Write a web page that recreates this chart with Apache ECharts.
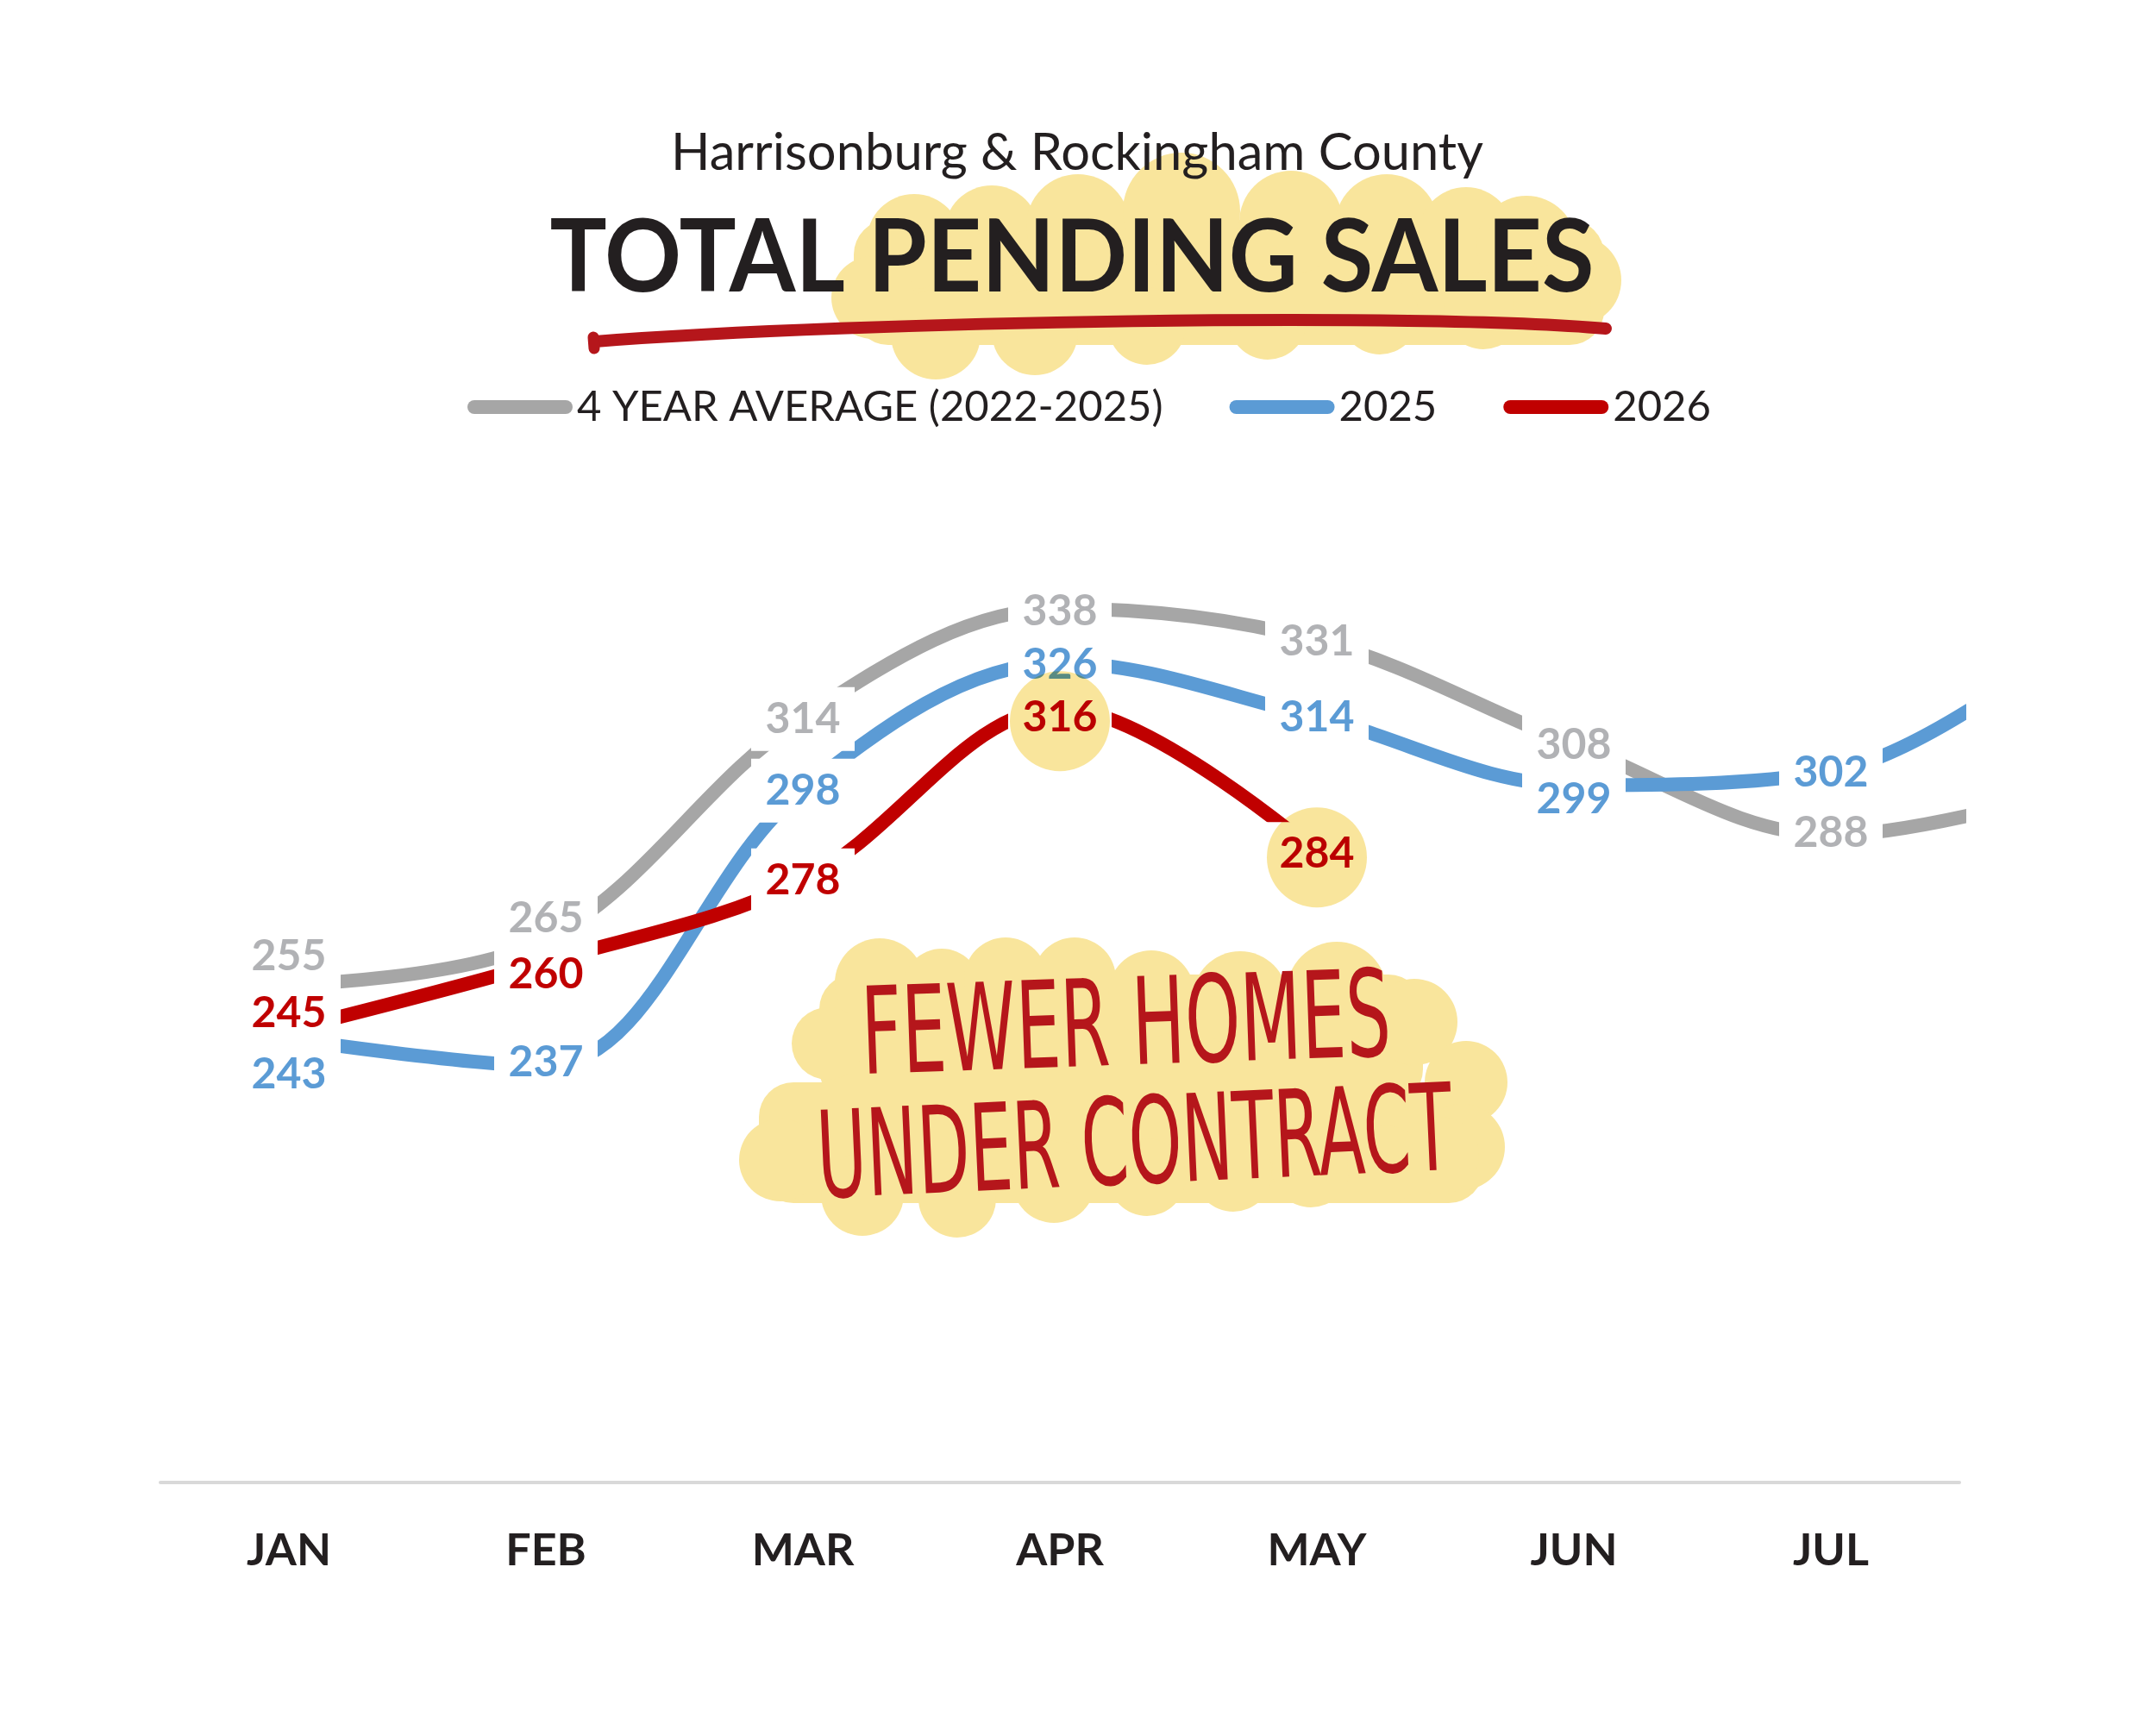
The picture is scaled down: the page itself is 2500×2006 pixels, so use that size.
<!DOCTYPE html>
<html>
<head>
<meta charset="utf-8">
<title>Total Pending Sales</title>
<script src="https://cdn.jsdelivr.net/npm/echarts@6/dist/echarts.min.js"></script>
<style>
    html, body { margin: 0; padding: 0; background: #fff; }
    #pendingChart { width: 2500px; height: 2006px; }
</style>
</head>
<body>
<div id="pendingChart"></div>
<script>
var months = ['JAN', 'FEB', 'MAR', 'APR', 'MAY', 'JUN', 'JUL'];
// last value (AUG) only feeds the tail that runs off the right edge
var avgValues = [255, 265, 314, 338, 331, 308, 288, 299];
var values2025 = [243, 237, 298, 326, 314, 299, 302, 334];
var values2026 = [245, 260, 278, 316, 284];
var seriesNames = ['4 YEAR AVERAGE (2022-2025)', '2025', '2026'];

// vertical nudges for the data labels so they stack like the original
var avgLabelShift = [-33, -24, 2, 3, 1, 1, -2];
var label2025Shift = [41, -4, 1, 2, 0, 16, 1];
var label2026Shift = [-19, 15, 0, 11, 1];
var circled2026 = [3, 4];

var fontFamily = 'Lato, "Open Sans", sans-serif';
var darkText = '#231f20';
var yellow = '#f9e59c';
var markerRed = '#b5161b';

var measureCtx = document.createElement('canvas').getContext('2d');
function textWidth(text, font) {
    measureCtx.font = font;
    return measureCtx.measureText(text).width;
}

function buildSeries(name, values, shifts, lineColor, labelColor) {
    var data = [];
    for (var i = 0; i < values.length; i++) {
        var item = { value: [i, values[i]] };
        if (i < months.length) {
            item.label = { offset: [0, shifts[i]] };
        } else {
            item.label = { show: false };
        }
        data.push(item);
    }
    return {
        type: 'line',
        name: name,
        xAxisIndex: 1,
        smooth: 0.35,
        symbol: 'circle',
        symbolSize: 2,
        clip: true,
        itemStyle: { color: lineColor },
        lineStyle: { color: lineColor, width: 16 },
        label: {
            show: true,
            position: 'inside',
            formatter: function (p) { return p.value[1]; },
            color: labelColor,
            fontFamily: fontFamily,
            fontWeight: 'bold',
            fontSize: 50,
            backgroundColor: '#fff',
            width: 120,
            height: 74,
            lineHeight: 74,
            align: 'center',
            verticalAlign: 'middle'
        },
        emphasis: { disabled: true },
        data: data
    };
}

function cloud(circles, rects) {
    var children = [];
    rects.forEach(function (r) {
        children.push({ type: 'rect', shape: { x: r[0], y: r[1], width: r[2], height: r[3], r: 40 }, style: { fill: yellow } });
    });
    circles.forEach(function (c) {
        children.push({ type: 'circle', shape: { cx: c[0], cy: c[1], r: c[2] }, style: { fill: yellow } });
    });
    return { type: 'group', z: 0, children: children };
}

function scaledText(text, font, fontSize, weight, cx, cy, targetWidth, color, extra) {
    var w = textWidth(text, weight + ' ' + fontSize + 'px ' + font);
    var el = {
        type: 'text',
        x: cx,
        y: cy,
        z: 10,
        scaleX: targetWidth / w,
        style: {
            text: text,
            fontFamily: font,
            fontSize: fontSize,
            fontWeight: weight,
            fill: color,
            align: 'center',
            verticalAlign: 'middle'
        }
    };
    if (extra) {
        for (var k in extra) { el[k] = extra[k]; }
    }
    return el;
}

var chart = echarts.init(document.getElementById('pendingChart'));

chart.setOption({
    animation: false,
    backgroundColor: '#fff',
    legend: {
        left: 537,
        top: 439,
        itemWidth: 122,
        itemHeight: 16,
        itemGap: 77,
        icon: 'path://M8 0H114A8 8 0 0 1 114 16H8A8 8 0 0 1 8 0Z',
        itemStyle: { borderWidth: 0 },
        selectedMode: false,
        textStyle: { fontFamily: fontFamily, fontSize: 49, color: darkText, lineHeight: 56 },
        data: seriesNames
    },
    grid: { left: 186, right: 228, top: 564, bottom: 287 },
    xAxis: [{
        type: 'category',
        data: months,
        boundaryGap: true,
        axisLine: { onZero: false, lineStyle: { color: '#d9d9d9', width: 4 } },
        axisTick: { show: false },
        axisLabel: { fontFamily: fontFamily, fontWeight: 'bold', fontSize: 52, color: darkText, margin: 53 }
    }, {
        type: 'value',
        min: -0.5,
        max: 6.5,
        show: false
    }],
    yAxis: { type: 'value', min: 145, max: 365, show: false },
    series: [
        buildSeries(seriesNames[0], avgValues, avgLabelShift, '#a6a6a6', '#b1b2b5'),
        buildSeries(seriesNames[1], values2025, label2025Shift, '#5b9bd5', '#5b9bd5'),
        buildSeries(seriesNames[2], values2026, label2026Shift, '#c00000', '#c00000')
    ]
});

// decorations: yellow clouds, titles, underline, note
var titleCloud = cloud(
    [[1060, 280, 55], [1150, 270, 55], [1250, 262, 60], [1370, 245, 68], [1497, 258, 60], [1608, 262, 60],
     [1700, 272, 55], [1770, 285, 58], [1828, 325, 52], [1012, 345, 48], [1085, 388, 52], [1200, 385, 50],
     [1330, 378, 45], [1470, 372, 45], [1600, 366, 45], [1720, 360, 45], [1800, 352, 45]],
    [[990, 255, 870, 145]]
);
var noteCloud = cloud(
    [[1020, 1140, 52], [1092, 1145, 45], [1166, 1135, 48], [1246, 1135, 48], [1335, 1152, 50], [1438, 1158, 55],
     [1550, 1150, 58], [1640, 1185, 50], [1700, 1255, 48], [1695, 1330, 50], [960, 1210, 42], [905, 1345, 48],
     [1000, 1385, 48], [1110, 1390, 45], [1222, 1370, 48], [1330, 1365, 45], [1430, 1360, 45], [1520, 1355, 45],
     [1607, 1350, 45], [1670, 1340, 45]],
    [[950, 1130, 700, 150], [880, 1255, 840, 140]]
);

var handFont = '"Liberation Sans Narrow", "DejaVu Sans Condensed", Roboto, sans-serif';
var graphics = [
    titleCloud,
    noteCloud,
    scaledText('Harrisonburg & Rockingham County', fontFamily, 60, 'normal', 1249, 178, 942, darkText),
    scaledText('TOTAL PENDING SALES', fontFamily, 116, 'bold', 1243, 301, 1211, darkText),
    {
        type: 'bezierCurve',
        z: 10,
        shape: { x1: 690, y1: 396, cpx1: 1000, cpy1: 372, cpx2: 1650, cpy2: 362, x2: 1862, y2: 381 },
        style: { stroke: markerRed, lineWidth: 14, lineCap: 'round', fill: null }
    },
    {
        type: 'line',
        z: 10,
        shape: { x1: 688, y1: 391, x2: 689, y2: 404 },
        style: { stroke: markerRed, lineWidth: 13, lineCap: 'round' }
    },
    scaledText('FEWER HOMES', handFont, 140, 'normal', 1306, 1198, 614, markerRed,
        { rotation: 0.035 }),
    scaledText('UNDER CONTRACT', handFont, 140, 'normal', 1316, 1336, 737, markerRed,
        { rotation: 0.045 })
];

// yellow highlight behind the circled 2026 labels, placed from the data
circled2026.forEach(function (idx) {
    var pt = chart.convertToPixel({ seriesIndex: 2 }, [idx, values2026[idx]]);
    graphics.push({
        type: 'circle',
        z: 100,
        shape: { cx: pt[0], cy: pt[1] + label2026Shift[idx] + 4, r: 58 },
        style: { fill: yellow, blend: 'multiply' }
    });
});

chart.setOption({ graphic: graphics });
</script>
</body>
</html>
